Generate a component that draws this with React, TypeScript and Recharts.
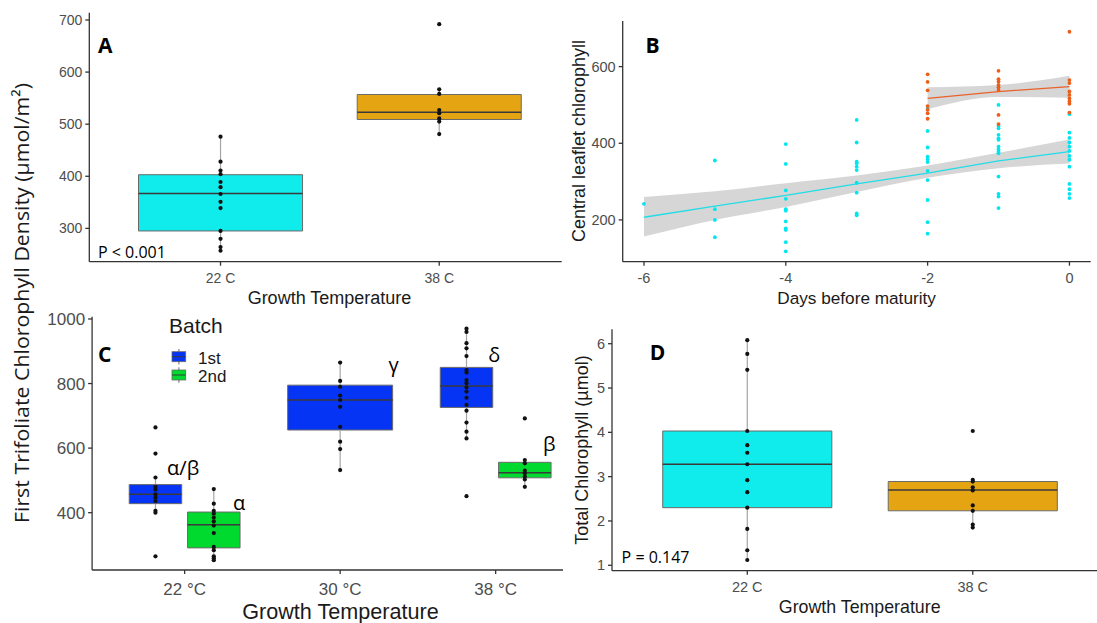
import React from "react";
import {
  ComposedChart,
  XAxis,
  YAxis,
  Scatter,
  ReferenceArea,
  ReferenceLine,
  Line,
  Area,
} from "recharts";

// ---------------- DATA ----------------
// Panel A
const tempsA = ["22 C", "38 C"];
const boxAMin = [257, 481];
const boxAQ1 = [295, 509];
const boxAMed = [367, 523];
const boxAQ3 = [403, 557];
const boxAMax = [476, 567];
const pointsA22 = [476, 428, 411, 404, 389, 379, 366, 351, 339, 295, 280, 264, 257];
const pointsA38 = [692, 567, 558, 527, 521, 511, 505, 481];
const ticksAY = [300, 400, 500, 600, 700];

// Panel B
const daysB = [-6, -5, -4, -3, -2, -1, 0];
const cyanB: number[][] = [
  [242],
  [355, 228, 200, 155],
  [398, 346, 277, 255, 228, 224, 196, 178, 174, 142, 118],
  [461, 402, 352, 348, 339, 330, 297, 271, 217, 212],
  [490, 432, 389, 365, 358, 351, 328, 304, 252, 194, 164],
  [500, 445, 439, 422, 413, 409, 391, 384, 378, 374, 313, 268, 261, 231],
  [476, 428, 414, 402, 391, 380, 367, 357, 339, 294, 280, 268, 257],
];
const orangeB: (number[])[] = [
  [],
  [],
  [],
  [],
  [580, 560, 538, 497, 487, 478, 464],
  [589, 567, 561, 552, 546, 539, 474, 450],
  [691, 565, 557, 535, 526, 517, 509, 503, 480],
];
const cyanFit = [207, 236, 264, 294, 322, 354, 378];
const cyanLow = [157, 200, 234, 273, 310, 335, 347];
const cyanHigh = [260, 275, 296, 316, 342, 375, 410];
const orangeFit = [null, null, null, null, 517, 535, 548];
const orangeLow = [null, null, null, null, 489, 521, 519];
const orangeHigh = [null, null, null, null, 546, 552, 576];
const ticksBX = [-6, -4, -2, 0];
const ticksBY = [200, 400, 600];

// Panel C
const tempsC = ["22 °C", "30 °C", "38 °C"];
const b1Min = [400, 532, 630];
const b1Q1 = [428, 656, 726];
const b1Med = [457, 749, 792];
const b1Q3 = [487, 795, 850];
const b1Max = [509, 865, 970];
const b1Points: number[][] = [
  [664, 583, 509, 480, 472, 457, 447, 436, 406, 400, 265],
  [865, 808, 790, 763, 749, 728, 666, 620, 597, 532],
  [970, 960, 925, 909, 885, 842, 834, 811, 801, 788, 775, 756, 734, 716, 679, 651, 630, 451],
];
const b2Min = [253, null, 480];
const b2Q1 = [291, null, 508];
const b2Med = [363, null, 524];
const b2Q3 = [402, null, 556];
const b2Max = [473, null, 563];
const b2Points: number[][] = [
  [473, 428, 406, 397, 385, 373, 360, 337, 294, 284, 265, 259, 253],
  [],
  [692, 563, 553, 530, 522, 512, 503, 480],
];
const lettersC = ["α/β", "α", "γ", "δ", "β"];
const ticksCY = [400, 600, 800, 1000];

// Panel D
const tempsD = ["22 C", "38 C"];
const boxDMin = [1.12, 1.85];
const boxDQ1 = [2.3, 2.23];
const boxDMed = [3.28, 2.7];
const boxDQ3 = [4.03, 2.89];
const boxDMax = [6.08, 2.93];
const pointsD22 = [6.08, 5.77, 5.41, 4.03, 3.71, 3.54, 3.28, 2.92, 2.65, 2.3, 1.82, 1.34, 1.12];
const pointsD38 = [4.03, 2.93, 2.89, 2.76, 2.69, 2.35, 2.23, 1.92, 1.85];
const ticksDY = [1, 2, 3, 4, 5, 6];

// ---------------- STYLE ----------------
const FONT = "'Liberation Sans', Arial, sans-serif";
const CAL = "'Open Sans', 'Noto Sans', sans-serif";
const CYAN = "#10EBEB";
const GOLD = "#E5A513";
const BLUE = "#0534F5";
const GREEN = "#00D92E";
const PT_CYAN = "#00E6EF";
const PT_ORANGE = "#EC5F1A";
const BORDER = "#6a6a6a";
const WHISK = "#a5a5a5";
const MED = "#3a3a3a";
const AXIS = "#333333";
const TICKTXT = "#4d4d4d";
const TITLE = "#1a1a1a";

const dot = (r: number, fill: string) => (p: any) =>
  p.cx == null || p.cy == null ? <g /> : <circle cx={p.cx} cy={p.cy} r={r} fill={fill} />;

function boxEls(
  key: string,
  center: number,
  half: number,
  min: number,
  q1: number,
  med: number,
  q3: number,
  max: number,
  fill: string
) {
  return [
    <ReferenceLine key={key + "wu"} segment={[{ x: center, y: q3 }, { x: center, y: max }]} stroke={WHISK} strokeWidth={1.2} />,
    <ReferenceLine key={key + "wl"} segment={[{ x: center, y: min }, { x: center, y: q1 }]} stroke={WHISK} strokeWidth={1.2} />,
    <ReferenceArea key={key + "bx"} x1={center - half} x2={center + half} y1={q1} y2={q3} fill={fill} fillOpacity={1} stroke={BORDER} strokeWidth={1} />,
    <ReferenceLine key={key + "md"} segment={[{ x: center - half, y: med }, { x: center + half, y: med }]} stroke={MED} strokeWidth={1.5} />,
  ];
}

const toPts = (xv: number, vals: number[]) => vals.map((v) => ({ x: xv, y: v }));

const axisCommon = {
  stroke: AXIS,
  strokeWidth: 1.3,
  allowDataOverflow: true,
  interval: 0 as const,
  tickSize: 4,
};

export default function App() {
  // Panel B rows
  const rowsB = daysB.map((d, i) => ({
    x: d,
    cFit: cyanFit[i],
    cBand: [cyanLow[i], cyanHigh[i]],
    oFit: orangeFit[i],
    oBand: orangeLow[i] == null ? null : [orangeLow[i], orangeHigh[i]],
  }));
  const cyanPts = daysB.flatMap((d, i) => toPts(d, cyanB[i]));
  const orangePts = daysB.flatMap((d, i) => toPts(d, orangeB[i]));

  const tickStyle = (fs: number) => ({ fill: TICKTXT, fontSize: fs, fontFamily: FONT });

  // Panel C box elements
  const cEls: any[] = [];
  tempsC.forEach((_, i) => {
    const c = i + 1;
    const has2 = b2Min[i] != null;
    if (has2) {
      cEls.push(...boxEls("b1" + i, c - 0.1875, 0.16875, b1Min[i], b1Q1[i], b1Med[i], b1Q3[i], b1Max[i], BLUE));
      cEls.push(
        ...boxEls("b2" + i, c + 0.1875, 0.16875, b2Min[i] as number, b2Q1[i] as number, b2Med[i] as number, b2Q3[i] as number, b2Max[i] as number, GREEN)
      );
    } else {
      cEls.push(...boxEls("b1" + i, c, 0.3375, b1Min[i], b1Q1[i], b1Med[i], b1Q3[i], b1Max[i], BLUE));
    }
  });
  const cPts: { x: number; y: number }[] = [];
  tempsC.forEach((_, i) => {
    const c = i + 1;
    const has2 = b2Min[i] != null;
    cPts.push(...toPts(has2 ? c - 0.1875 : c, b1Points[i]));
    if (has2) cPts.push(...toPts(c + 0.1875, b2Points[i]));
  });

  const ptsA = [...toPts(1, pointsA22), ...toPts(2, pointsA38)];
  const ptsD = [...toPts(1, pointsD22), ...toPts(2, pointsD38)];

  return (
    <div style={{ position: "fixed", left: 0, top: 0, width: 1097, height: 623, background: "#fff", overflow: "hidden" }}>
      {/* Panel A */}
      <div style={{ position: "absolute", left: 0, top: 0 }}>
        <ComposedChart width={562} height={300} margin={{ top: 12.7, right: 0.3, left: 0, bottom: 8.3 }}>
          <XAxis
            type="number"
            dataKey="x"
            domain={[0.4, 2.56]}
            ticks={[1, 2]}
            tickFormatter={(v: number) => tempsA[v - 1]}
            tick={tickStyle(14)}
            tickMargin={7}
            height={30}
            {...axisCommon}
          />
          <YAxis
            type="number"
            dataKey="y"
            domain={[236, 714]}
            ticks={ticksAY}
            tick={tickStyle(14)}
            tickMargin={3}
            width={89.3}
            {...axisCommon}
          />
          {tempsA.flatMap((_, i) =>
            boxEls("a" + i, i + 1, 0.375, boxAMin[i], boxAQ1[i], boxAMed[i], boxAQ3[i], boxAMax[i], i === 0 ? CYAN : GOLD)
          )}
          <Scatter data={ptsA} dataKey="y" shape={dot(2.1, "#111")} isAnimationActive={false} />
        </ComposedChart>
      </div>

      {/* Panel B */}
      <div style={{ position: "absolute", left: 560, top: 0 }}>
        <ComposedChart width={537} height={300} data={rowsB} margin={{ top: 21, right: 6.3, left: 0, bottom: 8.3 }}>
          <XAxis
            type="number"
            dataKey="x"
            domain={[-6.3, 0.3]}
            ticks={ticksBX}
            tick={tickStyle(14.5)}
            tickMargin={7.5}
            height={30}
            {...axisCommon}
          />
          <YAxis
            type="number"
            dataKey="y"
            domain={[91, 719]}
            ticks={ticksBY}
            tick={tickStyle(14.5)}
            tickMargin={3}
            width={62.7}
            {...axisCommon}
          />
          <Scatter data={cyanPts} dataKey="y" shape={dot(1.9, PT_CYAN)} isAnimationActive={false} />
          <Scatter data={orangePts} dataKey="y" shape={dot(1.9, PT_ORANGE)} isAnimationActive={false} />
          <Area dataKey="cBand" type="monotone" stroke="none" fill="#999999" fillOpacity={0.4} isAnimationActive={false} activeDot={false} dot={false} />
          <Area dataKey="oBand" type="monotone" stroke="none" fill="#999999" fillOpacity={0.4} isAnimationActive={false} activeDot={false} dot={false} />
          <Line dataKey="cFit" type="linear" stroke="#22DDE6" strokeWidth={1.3} dot={false} activeDot={false} isAnimationActive={false} />
          <Line dataKey="oFit" type="linear" stroke="#E8622A" strokeWidth={1.3} dot={false} activeDot={false} isAnimationActive={false} />
        </ComposedChart>
      </div>

      {/* Panel C */}
      <div style={{ position: "absolute", left: 0, top: 300 }}>
        <ComposedChart width={565} height={323} margin={{ top: 16.7, right: 2, left: 0, bottom: 23 }}>
          <XAxis
            type="number"
            dataKey="x"
            domain={[0.405, 3.433]}
            ticks={[1, 2, 3]}
            tickFormatter={(v: number) => tempsC[v - 1]}
            tick={tickStyle(17)}
            tickMargin={9}
            height={30}
            {...axisCommon}
          />
          <YAxis
            type="number"
            dataKey="y"
            domain={[222.5, 1007]}
            ticks={ticksCY}
            tick={tickStyle(17)}
            tickMargin={3}
            width={92.1}
            {...axisCommon}
          />
          {cEls}
          <Scatter data={cPts} dataKey="y" shape={dot(2.1, "#111")} isAnimationActive={false} />
        </ComposedChart>
      </div>

      {/* Panel D */}
      <div style={{ position: "absolute", left: 560, top: 300 }}>
        <ComposedChart width={537} height={323} margin={{ top: 29.3, right: 0, left: 0, bottom: 22.3 }}>
          <XAxis
            type="number"
            dataKey="x"
            domain={[0.4, 2.551]}
            ticks={[1, 2]}
            tickFormatter={(v: number) => tempsD[v - 1]}
            tick={tickStyle(14.5)}
            tickMargin={7}
            height={30}
            {...axisCommon}
          />
          <YAxis
            type="number"
            dataKey="y"
            domain={[0.878, 6.325]}
            ticks={ticksDY}
            tick={tickStyle(14.5)}
            tickMargin={3}
            width={52}
            {...axisCommon}
          />
          {tempsD.flatMap((_, i) =>
            boxEls("d" + i, i + 1, 0.375, boxDMin[i], boxDQ1[i], boxDMed[i], boxDQ3[i], boxDMax[i], i === 0 ? CYAN : GOLD)
          )}
          <Scatter data={ptsD} dataKey="y" shape={dot(2.1, "#111")} isAnimationActive={false} />
        </ComposedChart>
      </div>

      {/* Text overlay */}
      <svg width={1097} height={623} style={{ position: "absolute", left: 0, top: 0, pointerEvents: "none" }}>
        <text
          transform="translate(29,303) rotate(-90)"
          textAnchor="middle"
          fontFamily={CAL}
          fontSize={20}
          fill={TITLE}
          textLength={440}
          lengthAdjust="spacingAndGlyphs"
        >
          First Trifoliate Chlorophyll Density (µmol/m²)
        </text>

        {/* A */}
        <text x={98} y={53} fontFamily={CAL} fontWeight={700} fontSize={21} fill="#000">A</text>
        <text x={98} y={258} fontFamily={CAL} fontSize={16} fill="#000">P &lt; 0.001</text>
        <text x={329.5} y={304} textAnchor="middle" fontFamily={FONT} fontSize={18} fill={TITLE}>Growth Temperature</text>

        {/* B */}
        <text x={645.6} y={53} fontFamily={CAL} fontWeight={700} fontSize={21} fill="#000">B</text>
        <text transform="translate(585,141) rotate(-90)" textAnchor="middle" fontFamily={FONT} fontSize={18} fill={TITLE}>
          Central leaflet chlorophyll
        </text>
        <text x={856.6} y={304} textAnchor="middle" fontFamily={FONT} fontSize={17.2} fill={TITLE}>Days before maturity</text>

        {/* C */}
        <text x={98} y={361.7} fontFamily={CAL} fontWeight={700} fontSize={21} fill="#000">C</text>
        <text x={169} y={332.7} fontFamily={FONT} fontSize={21} fill={TITLE}>Batch</text>
        <g>
          <line x1={178.9} x2={178.9} y1={349} y2={364.5} stroke={BORDER} strokeWidth={1} />
          <rect x={172} y={351.7} width={13.7} height={10} fill={BLUE} stroke={BORDER} strokeWidth={0.8} />
          <line x1={172} x2={185.7} y1={356.7} y2={356.7} stroke={MED} strokeWidth={1} />
          <line x1={178.9} x2={178.9} y1={367.3} y2={382.8} stroke={BORDER} strokeWidth={1} />
          <rect x={172} y={370} width={13.7} height={10} fill={GREEN} stroke={BORDER} strokeWidth={0.8} />
          <line x1={172} x2={185.7} y1={375} y2={375} stroke={MED} strokeWidth={1} />
        </g>
        <text x={198} y={364} fontFamily={FONT} fontSize={17} fill={TITLE}>1st</text>
        <text x={198} y={381.7} fontFamily={FONT} fontSize={17} fill={TITLE}>2nd</text>
        <text x={167.1} y={475} fontFamily={CAL} fontSize={20} fill="#000">{lettersC[0]}</text>
        <text x={232.9} y={510} fontFamily={CAL} fontSize={20} fill="#000">{lettersC[1]}</text>
        <text x={388.6} y={372} fontFamily={CAL} fontSize={20} fill="#000">{lettersC[2]}</text>
        <text x={488.2} y={362} fontFamily={CAL} fontSize={20} fill="#000">{lettersC[3]}</text>
        <text x={542.9} y={451} fontFamily={CAL} fontSize={20} fill="#000">{lettersC[4]}</text>
        <text x={340.5} y={619} textAnchor="middle" fontFamily={FONT} fontSize={21.6} fill={TITLE}>Growth Temperature</text>

        {/* D */}
        <text x={649.7} y={360} fontFamily={CAL} fontWeight={700} fontSize={21} fill="#000">D</text>
        <text x={621.6} y={563} fontFamily={CAL} fontSize={16} fill="#000">P = 0.147</text>
        <text transform="translate(588,450) rotate(-90)" textAnchor="middle" fontFamily={FONT} fontSize={18} fill={TITLE}>
          Total Chlorophyll (µmol)
        </text>
        <text x={859.7} y={613} textAnchor="middle" fontFamily={FONT} fontSize={17.8} fill={TITLE}>Growth Temperature</text>
      </svg>
    </div>
  );
}
